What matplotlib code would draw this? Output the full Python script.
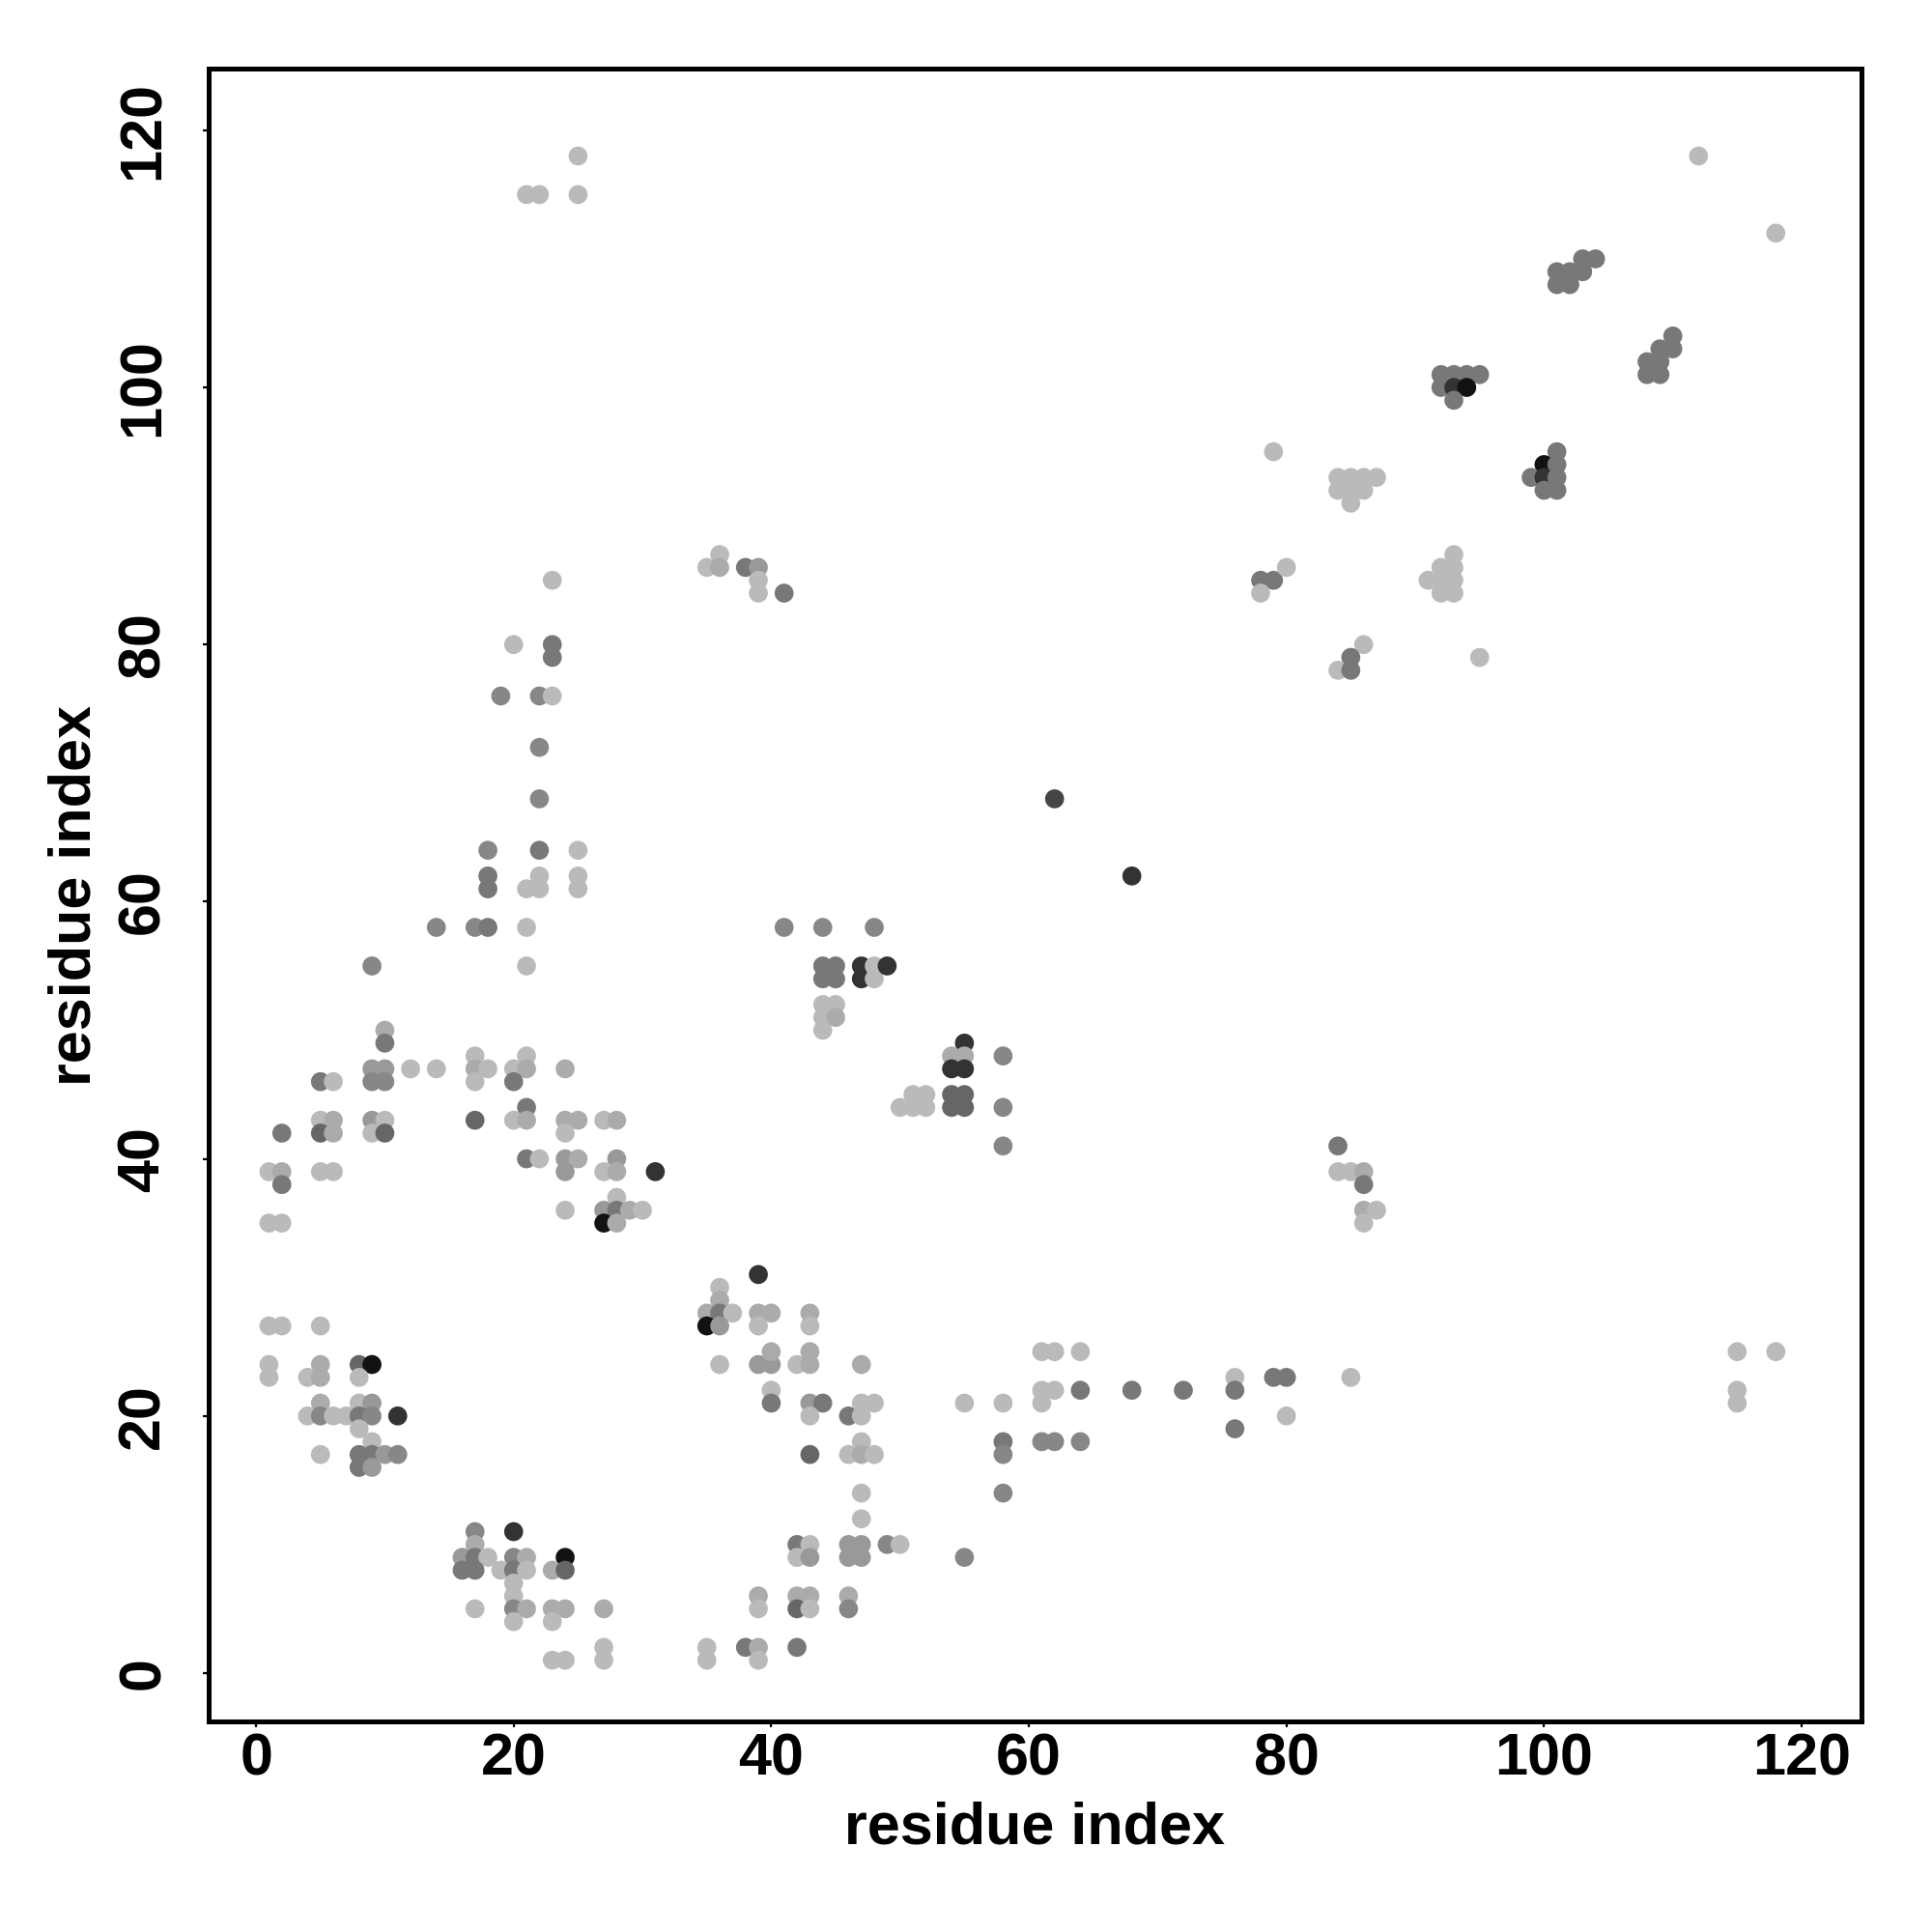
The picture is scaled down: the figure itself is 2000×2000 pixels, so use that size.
import matplotlib
matplotlib.use("Agg")
import matplotlib.pyplot as plt

L, LM, M9, M8, M7, D6, D3, K = 0.73, 0.67, 0.60, 0.53, 0.47, 0.40, 0.20, 0.07

# contact list: residue i (x), residue j (y), grey shade
res_i = [1,2,5,1,1,5,4,5,8,9,8,5,8,9,4,5,6,7,8,9,11,8,9,5,8,9,10,11,8,9,
         17,20,17,16,17,18,20,21,24,16,17,19,20,21,23,24,20,20,17,20,21,23,24,27,20,23,27,27,23,24,
         39,36,36,35,36,37,39,40,43,35,36,39,43,61,62,64,36,39,40,40,42,43,43,47,40,40,43,44,43,46,47,48,47,55,58,61,62,64,61,43,47,46,47,48,58,58,61,62,64,47,58,47,42,43,46,47,49,50,42,43,46,47,55,39,39,42,43,42,43,46,46,35,35,38,39,39,42,
         18,22,25,18,18,22,21,22,25,25,14,17,18,21,9,21,10,10,9,10,9,10,12,14,17,17,18,17,20,21,21,20,24,5,6,5,6,5,6,9,10,9,10,17,21,20,21,2,21,22,24,25,24,27,28,24,25,24,28,27,28,31,1,2,2,5,6,1,2,24,28,27,28,29,30,27,28,
         25,21,22,25,23,20,23,23,19,22,23,22,22,
         41,44,48,44,45,44,45,47,47,48,48,49,44,45,44,45,44,55,54,55,54,55,58,54,55,54,55,58,58,51,52,50,51,52,
         36,35,36,38,39,39,39,41,
         62,68,
         84,84,85,86,86,86,87,86,
         68,72,76,76,76,79,80,80,85,115,118,115,115,
         112,118,101,102,103,104,101,102,103,110,109,110,108,109,108,109,92,93,94,95,92,93,94,93,101,100,101,99,100,101,100,101,79,84,85,86,87,84,85,86,85,78,79,80,78,93,92,93,91,92,93,92,93,86,85,84,85,95]
res_j = [27,27,27,24,23,24,23,23,24,24,23,21,21,21,20,20,20,20,20,20,20,19,18,17,17,17,17,17,16,16,
         11,11,10,9,9,9,9,9,9,8,8,8,8,8,8,8,7,6,5,5,5,5,5,5,4,4,2,1,1,1,
         31,30,29,28,28,28,28,28,28,27,27,27,27,25,25,25,24,24,24,25,24,24,25,24,22,21,21,21,20,20,21,21,20,21,21,22,22,22,21,17,18,17,17,17,18,17,18,18,18,14,14,12,10,10,10,10,10,10,9,9,9,9,9,6,5,6,6,5,5,6,5,2,1,2,2,1,2,
         64,64,64,62,61,62,61,61,62,61,58,58,58,58,55,55,50,49,47,47,46,46,47,47,48,47,47,46,47,48,47,46,47,46,46,43,43,42,42,43,43,42,42,43,44,43,43,42,40,40,43,43,42,43,43,40,40,39,40,39,39,39,39,39,38,39,39,35,35,36,37,36,36,36,36,35,35,
         118,115,115,115,85,80,80,79,76,76,76,72,68,
         58,58,58,55,55,54,54,55,54,55,54,55,52,52,51,51,50,49,48,48,47,47,48,45,45,44,44,44,41,45,45,44,44,44,
         87,86,86,86,86,85,84,84,
         68,62,
         41,39,39,39,38,36,36,35,
         22,22,23,22,19,23,23,20,23,25,25,22,21,
         118,112,109,109,110,110,108,108,109,104,103,103,102,102,101,101,101,101,101,101,100,100,100,99,95,94,94,93,93,93,92,92,95,93,93,93,93,92,92,92,91,85,85,86,84,87,86,86,85,85,85,84,84,80,79,78,78,79]
shade = [L,L,L,L,L,LM,L,LM,D6,K,L,LM,L,M9,L,M8,L,L,M7,M8,D3,L,L,L,M7,M7,M9,M8,M7,M9,
         M8,D3,LM,M9,M7,L,M8,LM,K,M7,M7,L,M7,L,LM,D6,L,L,L,M8,LM,LM,LM,LM,L,L,L,L,L,L,
         D3,L,LM,LM,M7,L,LM,LM,LM,K,M9,L,L,L,L,L,L,M9,M9,LM,L,LM,LM,LM,L,M7,M9,M7,L,M7,L,L,L,L,L,L,L,M7,L,D6,L,L,LM,L,M7,M8,M8,M8,M8,L,M8,L,M7,L,M9,M9,M8,L,L,M9,M9,M9,M8,LM,L,LM,LM,D6,L,LM,M8,L,L,M7,LM,L,M7,
         M8,M7,L,M7,M7,L,L,L,L,L,M8,M8,M7,L,M8,L,LM,M7,M9,M9,M8,M8,L,L,L,LM,L,L,L,L,LM,M7,LM,M7,L,L,LM,D6,LM,M9,L,L,D6,D6,M7,L,LM,M7,M7,L,LM,LM,L,L,LM,M9,LM,M9,M9,L,LM,D3,L,LM,M7,L,L,L,L,L,L,M9,M7,LM,L,K,LM,
         L,L,L,L,L,L,M7,M7,M8,M8,L,M8,M8,
         M8,M8,M8,M7,M7,M7,M7,D3,D3,L,L,D3,L,L,L,LM,L,D3,LM,LM,D3,D3,M8,D6,D6,D6,D6,M8,M8,L,L,L,L,L,
         L,L,LM,M7,M9,L,L,M7,
         0.27,D3,
         M7,L,L,LM,M7,LM,L,L,
         M7,M7,L,M7,M7,M7,M7,L,L,L,L,L,L,
         L,L,M7,M7,M7,M7,M7,M7,M7,M7,M7,M7,M7,M7,M7,M7,M7,M7,M7,M7,M7,D3,K,M7,M7,K,M7,M7,D3,M7,M7,M7,L,L,L,L,L,L,L,L,L,M7,M7,L,L,L,L,L,L,L,L,L,L,L,M7,L,M7,L]

x_ticks = [0, 20, 40, 60, 80, 100, 120]
y_ticks = [0, 20, 40, 60, 80, 100, 120]
x_label = "residue index"
y_label = "residue index"

plt.rcParams['font.family'] = ['Liberation Sans', 'DejaVu Sans']

fig = plt.figure(figsize=(10, 10), dpi=200)
ax = fig.add_axes([0.108, 0.109, 0.8555, 0.8555])

colors = [str(g) for g in shade]
ax.scatter(res_i, res_j, s=50, c=colors, linewidths=0, zorder=3)

ax.set_xlim(-3.68, 124.65)
ax.set_ylim(-3.76, 124.8)
ax.set_xticks(x_ticks)
ax.set_yticks(y_ticks)
ax.set_xticklabels([str(t) for t in x_ticks], fontsize=22, fontweight='bold')
ax.set_yticklabels([str(t) for t in y_ticks], fontsize=22, fontweight='bold',
                   rotation=90, va='center')
ax.tick_params(axis='both', direction='out', length=2.3, width=0.8, color='black')
ax.tick_params(axis='x', pad=1.8)
ax.tick_params(axis='y', pad=11.5)
for sp in ax.spines.values():
    sp.set_linewidth(1.8)
ax.set_xlabel(x_label, fontsize=22, fontweight='bold', labelpad=5)
ax.set_ylabel(y_label, fontsize=22, fontweight='bold', labelpad=5)

fig.savefig("out.png", dpi=200, facecolor='white')
